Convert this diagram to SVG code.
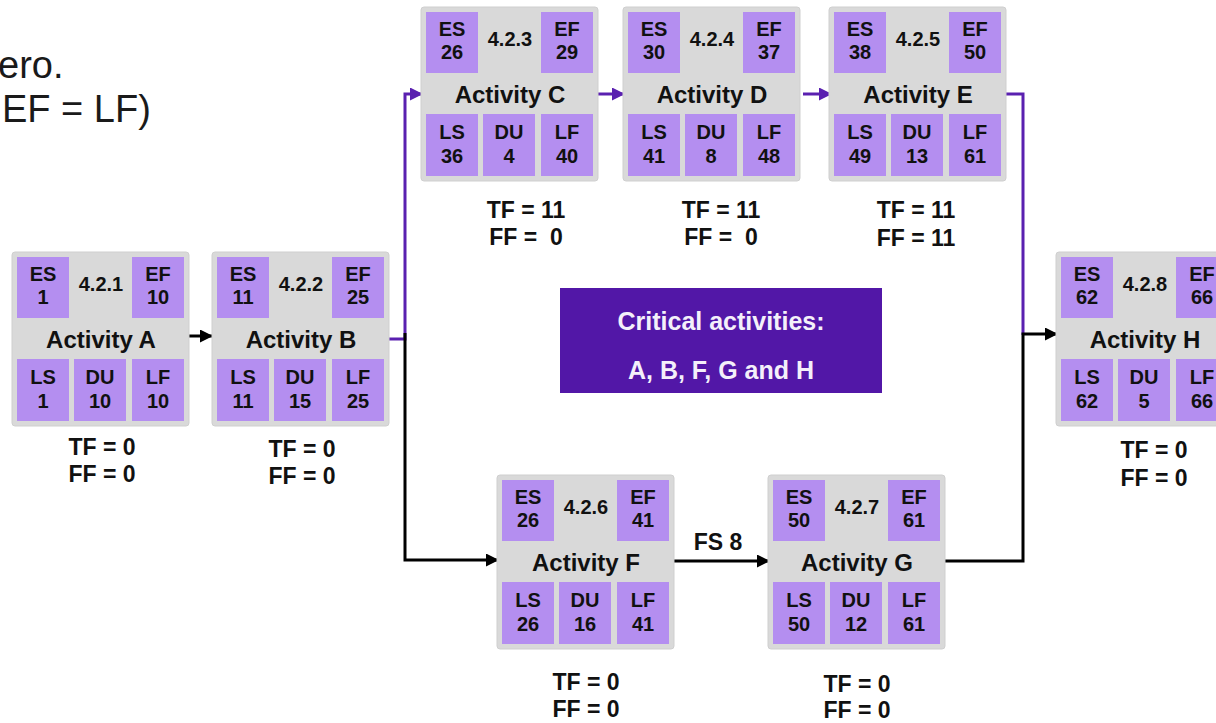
<svg xmlns="http://www.w3.org/2000/svg" width="1216" height="723" viewBox="0 0 1216 723">
<style>
text{font-family:"Liberation Sans",Arial,sans-serif;fill:#111;}
.box{fill:#d9d9d9;stroke:#cfcfcf;stroke-width:1;}
.cell{fill:#b48ef0;}
.c{font-size:20px;font-weight:bold;text-anchor:middle;}
.act{font-size:24px;font-weight:bold;text-anchor:middle;}
.f{font-size:23px;font-weight:bold;text-anchor:middle;}
.intro{font-size:38px;fill:#1a1a1a;}
.crit{font-size:25px;font-weight:bold;text-anchor:middle;fill:#f4f0fa;}
.pl{fill:none;stroke:#5a20b0;stroke-width:3;}
.bl{fill:none;stroke:#000;stroke-width:3;}
</style>
<defs>
<marker id="ab" markerUnits="userSpaceOnUse" markerWidth="14" markerHeight="14" refX="12" refY="6.5" orient="auto"><path d="M0,0 L13,6.5 L0,13 z" fill="#000"/></marker>
<marker id="ap" markerUnits="userSpaceOnUse" markerWidth="14" markerHeight="14" refX="12" refY="6.5" orient="auto"><path d="M0,0 L13,6.5 L0,13 z" fill="#5a20b0"/></marker>
</defs>
<rect width="1216" height="723" fill="#fff"/>
<text class="intro" x="-2" y="78">ero.</text>
<text class="intro" x="2" y="122">EF = LF)</text>

<g id="connectors">
<polyline class="bl" points="187,336 212,336" marker-end="url(#ab)"/>
<polyline class="pl" points="389,339 405,339 405,94 422,94" marker-end="url(#ap)"/>
<polyline class="bl" points="405,333 405,560 498,560" marker-end="url(#ab)"/>
<polyline class="pl" points="596,94 624,94" marker-end="url(#ap)"/>
<polyline class="pl" points="803,94 831,94" marker-end="url(#ap)"/>
<polyline class="pl" points="1004,94 1023,94 1023,335"/>
<polyline class="bl" points="672,561 769,561" marker-end="url(#ab)"/>
<polyline class="bl" points="944,561 1023,561 1023,334 1057,334" marker-end="url(#ab)"/>
<text class="f" x="718" y="550">FS 8</text>
</g>

<g id="nodeA" transform="translate(12,252)">
<rect class="box" x="0" y="0" width="177" height="174" rx="3"/>
<rect class="cell" x="5" y="5" width="52" height="61"/><rect class="cell" x="120" y="5" width="52" height="61"/>
<rect class="cell" x="5" y="107" width="52" height="62"/><rect class="cell" x="62" y="107" width="52" height="62"/><rect class="cell" x="120" y="107" width="52" height="62"/>
<text class="c" x="31" y="29">ES</text><text class="c" x="31" y="52">1</text>
<text class="c" x="89" y="39">4.2.1</text>
<text class="c" x="146" y="29">EF</text><text class="c" x="146" y="52">10</text>
<text class="act" x="89" y="96">Activity A</text>
<text class="c" x="31" y="132">LS</text><text class="c" x="31" y="156">1</text>
<text class="c" x="88" y="132">DU</text><text class="c" x="88" y="156">10</text>
<text class="c" x="146" y="132">LF</text><text class="c" x="146" y="156">10</text>
</g>
<text class="f" x="102" y="455">TF = 0</text><text class="f" x="102" y="482">FF = 0</text>

<g id="nodeB" transform="translate(212,252)">
<rect class="box" x="0" y="0" width="177" height="174" rx="3"/>
<rect class="cell" x="5" y="5" width="52" height="61"/><rect class="cell" x="120" y="5" width="52" height="61"/>
<rect class="cell" x="5" y="107" width="52" height="62"/><rect class="cell" x="62" y="107" width="52" height="62"/><rect class="cell" x="120" y="107" width="52" height="62"/>
<text class="c" x="31" y="29">ES</text><text class="c" x="31" y="52">11</text>
<text class="c" x="89" y="39">4.2.2</text>
<text class="c" x="146" y="29">EF</text><text class="c" x="146" y="52">25</text>
<text class="act" x="89" y="96">Activity B</text>
<text class="c" x="31" y="132">LS</text><text class="c" x="31" y="156">11</text>
<text class="c" x="88" y="132">DU</text><text class="c" x="88" y="156">15</text>
<text class="c" x="146" y="132">LF</text><text class="c" x="146" y="156">25</text>
</g>
<text class="f" x="302" y="457">TF = 0</text><text class="f" x="302" y="484">FF = 0</text>

<g id="nodeC" transform="translate(421,7)">
<rect class="box" x="0" y="0" width="177" height="174" rx="3"/>
<rect class="cell" x="5" y="5" width="52" height="61"/><rect class="cell" x="120" y="5" width="52" height="61"/>
<rect class="cell" x="5" y="107" width="52" height="62"/><rect class="cell" x="62" y="107" width="52" height="62"/><rect class="cell" x="120" y="107" width="52" height="62"/>
<text class="c" x="31" y="29">ES</text><text class="c" x="31" y="52">26</text>
<text class="c" x="89" y="39">4.2.3</text>
<text class="c" x="146" y="29">EF</text><text class="c" x="146" y="52">29</text>
<text class="act" x="89" y="96">Activity C</text>
<text class="c" x="31" y="132">LS</text><text class="c" x="31" y="156">36</text>
<text class="c" x="88" y="132">DU</text><text class="c" x="88" y="156">4</text>
<text class="c" x="146" y="132">LF</text><text class="c" x="146" y="156">40</text>
</g>
<text class="f" x="526" y="218">TF = 11</text><text class="f" x="526" y="245" xml:space="preserve">FF =  0</text>

<g id="nodeD" transform="translate(623,7)">
<rect class="box" x="0" y="0" width="177" height="174" rx="3"/>
<rect class="cell" x="5" y="5" width="52" height="61"/><rect class="cell" x="120" y="5" width="52" height="61"/>
<rect class="cell" x="5" y="107" width="52" height="62"/><rect class="cell" x="62" y="107" width="52" height="62"/><rect class="cell" x="120" y="107" width="52" height="62"/>
<text class="c" x="31" y="29">ES</text><text class="c" x="31" y="52">30</text>
<text class="c" x="89" y="39">4.2.4</text>
<text class="c" x="146" y="29">EF</text><text class="c" x="146" y="52">37</text>
<text class="act" x="89" y="96">Activity D</text>
<text class="c" x="31" y="132">LS</text><text class="c" x="31" y="156">41</text>
<text class="c" x="88" y="132">DU</text><text class="c" x="88" y="156">8</text>
<text class="c" x="146" y="132">LF</text><text class="c" x="146" y="156">48</text>
</g>
<text class="f" x="721" y="218">TF = 11</text><text class="f" x="721" y="245" xml:space="preserve">FF =  0</text>

<g id="nodeE" transform="translate(829,7)">
<rect class="box" x="0" y="0" width="177" height="174" rx="3"/>
<rect class="cell" x="5" y="5" width="52" height="61"/><rect class="cell" x="120" y="5" width="52" height="61"/>
<rect class="cell" x="5" y="107" width="52" height="62"/><rect class="cell" x="62" y="107" width="52" height="62"/><rect class="cell" x="120" y="107" width="52" height="62"/>
<text class="c" x="31" y="29">ES</text><text class="c" x="31" y="52">38</text>
<text class="c" x="89" y="39">4.2.5</text>
<text class="c" x="146" y="29">EF</text><text class="c" x="146" y="52">50</text>
<text class="act" x="89" y="96">Activity E</text>
<text class="c" x="31" y="132">LS</text><text class="c" x="31" y="156">49</text>
<text class="c" x="88" y="132">DU</text><text class="c" x="88" y="156">13</text>
<text class="c" x="146" y="132">LF</text><text class="c" x="146" y="156">61</text>
</g>
<text class="f" x="916" y="218">TF = 11</text><text class="f" x="916" y="246">FF = 11</text>

<g id="nodeF" transform="translate(497,475)">
<rect class="box" x="0" y="0" width="177" height="174" rx="3"/>
<rect class="cell" x="5" y="5" width="52" height="61"/><rect class="cell" x="120" y="5" width="52" height="61"/>
<rect class="cell" x="5" y="107" width="52" height="62"/><rect class="cell" x="62" y="107" width="52" height="62"/><rect class="cell" x="120" y="107" width="52" height="62"/>
<text class="c" x="31" y="29">ES</text><text class="c" x="31" y="52">26</text>
<text class="c" x="89" y="39">4.2.6</text>
<text class="c" x="146" y="29">EF</text><text class="c" x="146" y="52">41</text>
<text class="act" x="89" y="96">Activity F</text>
<text class="c" x="31" y="132">LS</text><text class="c" x="31" y="156">26</text>
<text class="c" x="88" y="132">DU</text><text class="c" x="88" y="156">16</text>
<text class="c" x="146" y="132">LF</text><text class="c" x="146" y="156">41</text>
</g>
<text class="f" x="586" y="690">TF = 0</text><text class="f" x="586" y="717">FF = 0</text>

<g id="nodeG" transform="translate(768,475)">
<rect class="box" x="0" y="0" width="177" height="174" rx="3"/>
<rect class="cell" x="5" y="5" width="52" height="61"/><rect class="cell" x="120" y="5" width="52" height="61"/>
<rect class="cell" x="5" y="107" width="52" height="62"/><rect class="cell" x="62" y="107" width="52" height="62"/><rect class="cell" x="120" y="107" width="52" height="62"/>
<text class="c" x="31" y="29">ES</text><text class="c" x="31" y="52">50</text>
<text class="c" x="89" y="39">4.2.7</text>
<text class="c" x="146" y="29">EF</text><text class="c" x="146" y="52">61</text>
<text class="act" x="89" y="96">Activity G</text>
<text class="c" x="31" y="132">LS</text><text class="c" x="31" y="156">50</text>
<text class="c" x="88" y="132">DU</text><text class="c" x="88" y="156">12</text>
<text class="c" x="146" y="132">LF</text><text class="c" x="146" y="156">61</text>
</g>
<text class="f" x="857" y="692">TF = 0</text><text class="f" x="857" y="718">FF = 0</text>

<g id="nodeH" transform="translate(1056,252)">
<rect class="box" x="0" y="0" width="177" height="174" rx="3"/>
<rect class="cell" x="5" y="5" width="52" height="61"/><rect class="cell" x="120" y="5" width="52" height="61"/>
<rect class="cell" x="5" y="107" width="52" height="62"/><rect class="cell" x="62" y="107" width="52" height="62"/><rect class="cell" x="120" y="107" width="52" height="62"/>
<text class="c" x="31" y="29">ES</text><text class="c" x="31" y="52">62</text>
<text class="c" x="89" y="39">4.2.8</text>
<text class="c" x="146" y="29">EF</text><text class="c" x="146" y="52">66</text>
<text class="act" x="89" y="96">Activity H</text>
<text class="c" x="31" y="132">LS</text><text class="c" x="31" y="156">62</text>
<text class="c" x="88" y="132">DU</text><text class="c" x="88" y="156">5</text>
<text class="c" x="146" y="132">LF</text><text class="c" x="146" y="156">66</text>
</g>
<text class="f" x="1154" y="458">TF = 0</text><text class="f" x="1154" y="486">FF = 0</text>

<g id="critical">
<rect x="560" y="288" width="322" height="105" fill="#5217a7"/>
<text class="crit" x="721" y="330">Critical activities:</text>
<text class="crit" x="721" y="379">A, B, F, G and H</text>
</g>
</svg>
